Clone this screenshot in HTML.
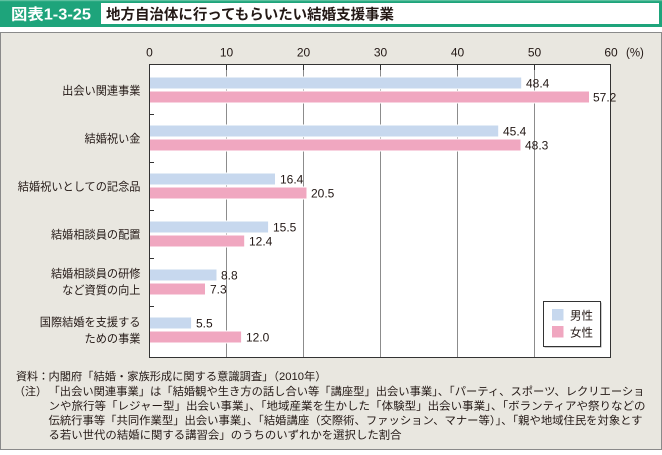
<!DOCTYPE html>
<html><head><meta charset="utf-8"><style>
html,body{margin:0;padding:0;background:#fff;}
svg{display:block;}
text{font-family:"Liberation Sans","Noto Sans CJK JP",sans-serif;fill:#231815;}
</style></head><body>
<svg width="662" height="455" viewBox="0 0 662 455" xmlns="http://www.w3.org/2000/svg">
<!-- header -->
<rect x="0" y="0" width="662" height="27" fill="#1ea47b"/>
<rect x="0" y="0" width="662" height="1.2" fill="#5cc09f"/>
<rect x="101" y="3" width="558" height="21" fill="#ffffff"/>
<text x="11" y="19.5" font-size="15.5" font-weight="bold" style="fill:#ffffff" textLength="80" lengthAdjust="spacingAndGlyphs">図表1-3-25</text>
<text x="106" y="19.5" font-size="14.5" font-weight="bold" textLength="288" lengthAdjust="spacingAndGlyphs">地方自治体に行ってもらいたい結婚支援事業</text>
<!-- panel -->
<rect x="0.5" y="32.5" width="661" height="417" fill="#e9e7e0" stroke="#8a8a8a" stroke-width="1"/>
<!-- plot -->
<rect x="149.5" y="64.5" width="461" height="293" fill="#ffffff"/>
<g stroke="#8c8c8c" stroke-width="1">
<line x1="226.5" y1="64" x2="226.5" y2="358"/>
<line x1="303.5" y1="64" x2="303.5" y2="358"/>
<line x1="380.5" y1="64" x2="380.5" y2="358"/>
<line x1="457.5" y1="64" x2="457.5" y2="358"/>
<line x1="534.5" y1="64" x2="534.5" y2="358"/>
</g>
<g stroke="#333" stroke-width="1">
<line x1="226.5" y1="64" x2="226.5" y2="70"/>
<line x1="303.5" y1="64" x2="303.5" y2="70"/>
<line x1="380.5" y1="64" x2="380.5" y2="70"/>
<line x1="457.5" y1="64" x2="457.5" y2="70"/>
<line x1="534.5" y1="64" x2="534.5" y2="70"/>
<line x1="149" y1="114.5" x2="154" y2="114.5"/>
<line x1="149" y1="162.5" x2="154" y2="162.5"/>
<line x1="149" y1="210.5" x2="154" y2="210.5"/>
<line x1="149" y1="258.5" x2="154" y2="258.5"/>
<line x1="149" y1="306.5" x2="154" y2="306.5"/>
</g>
<!-- bars -->
<g stroke="#ffffff" stroke-width="1">
<rect x="149.5" y="77" width="372.2" height="12" fill="#c7d8ee"/>
<rect x="149.5" y="91" width="440" height="12" fill="#f0a7c0"/>
<rect x="149.5" y="125" width="349.2" height="12" fill="#c7d8ee"/>
<rect x="149.5" y="139" width="371.5" height="12" fill="#f0a7c0"/>
<rect x="149.5" y="173" width="126" height="12" fill="#c7d8ee"/>
<rect x="149.5" y="187" width="157.5" height="12" fill="#f0a7c0"/>
<rect x="149.5" y="221" width="119.1" height="12" fill="#c7d8ee"/>
<rect x="149.5" y="235" width="95.2" height="12" fill="#f0a7c0"/>
<rect x="149.5" y="269" width="67.5" height="12" fill="#c7d8ee"/>
<rect x="149.5" y="283" width="56" height="12" fill="#f0a7c0"/>
<rect x="149.5" y="317" width="42.1" height="12" fill="#c7d8ee"/>
<rect x="149.5" y="331" width="92.1" height="12" fill="#f0a7c0"/>
</g>
<rect x="149.5" y="64.5" width="461" height="293" fill="none" stroke="#333" stroke-width="1"/>
<!-- value labels -->
<g font-size="12">
<text x="526" y="87.5">48.4</text>
<text x="593" y="101.5">57.2</text>
<text x="503" y="135.5">45.4</text>
<text x="525" y="149.5">48.3</text>
<text x="280" y="183.5">16.4</text>
<text x="311" y="197.5">20.5</text>
<text x="273" y="231.5">15.5</text>
<text x="249" y="245.5">12.4</text>
<text x="221" y="279.5">8.8</text>
<text x="210" y="293.5">7.3</text>
<text x="196" y="327.5">5.5</text>
<text x="246" y="341.5">12.0</text>
</g>
<!-- axis labels -->
<g font-size="12" text-anchor="middle">
<text x="149.5" y="56.5">0</text>
<text x="226.5" y="56.5">10</text>
<text x="303.5" y="56.5">20</text>
<text x="380.5" y="56.5">30</text>
<text x="457.5" y="56.5">40</text>
<text x="534.5" y="56.5">50</text>
<text x="611" y="56.5">60</text>
</g>
<text x="626" y="56.5" font-size="11.5">(%)</text>
<!-- category labels -->
<g font-size="11.2" text-anchor="end">
<text x="140.5" y="94.5">出会い関連事業</text>
<text x="140.5" y="142.5">結婚祝い金</text>
<text x="140.5" y="190.5">結婚祝いとしての記念品</text>
<text x="140.5" y="238.5">結婚相談員の配置</text>
<text x="140.5" y="277.5">結婚相談員の研修</text>
<text x="140.5" y="294">など資質の向上</text>
<text x="140.5" y="326">国際結婚を支援する</text>
<text x="140.5" y="342.5">ための事業</text>
</g>
<!-- legend -->
<rect x="544.5" y="302.5" width="57" height="45" fill="#9a9a9a"/>
<rect x="543.5" y="301.5" width="57" height="45" fill="#ffffff" stroke="#333" stroke-width="1"/>
<rect x="552" y="309" width="11.5" height="11.5" fill="#c7d8ee"/>
<rect x="552" y="326" width="11.5" height="11.5" fill="#f0a7c0"/>
<g font-size="11.5">
<text x="570" y="319.5">男性</text>
<text x="570" y="336.5">女性</text>
</g>
<!-- notes -->
<g font-size="11">
<text x="16" y="380">資料：</text>
<text x="48.5" y="380" textLength="278" lengthAdjust="spacingAndGlyphs">内閣府「結婚・家族形成に関する意識調査」（2010年）</text>
<text x="14" y="395">（注）</text>
<text x="48.5" y="395" textLength="596" lengthAdjust="spacingAndGlyphs">「出会い関連事業」は「結婚観や生き方の話し合い等「講座型」出会い事業」、「パーティ、スポーツ、レクリエーショ</text>
<text x="48.5" y="409.5" textLength="597" lengthAdjust="spacingAndGlyphs">ンや旅行等「レジャー型」出会い事業」、「地域産業を生かした「体験型」出会い事業」、「ボランティアや祭りなどの</text>
<text x="48.5" y="424" textLength="594" lengthAdjust="spacingAndGlyphs">伝統行事等「共同作業型」出会い事業」、「結婚講座（交際術、ファッション、マナー等）」、「親や地域住民を対象とす</text>
<text x="48.5" y="438.5" textLength="353" lengthAdjust="spacingAndGlyphs">る若い世代の結婚に関する講習会」のうちのいずれかを選択した割合</text>
</g>
</svg>
</body></html>
